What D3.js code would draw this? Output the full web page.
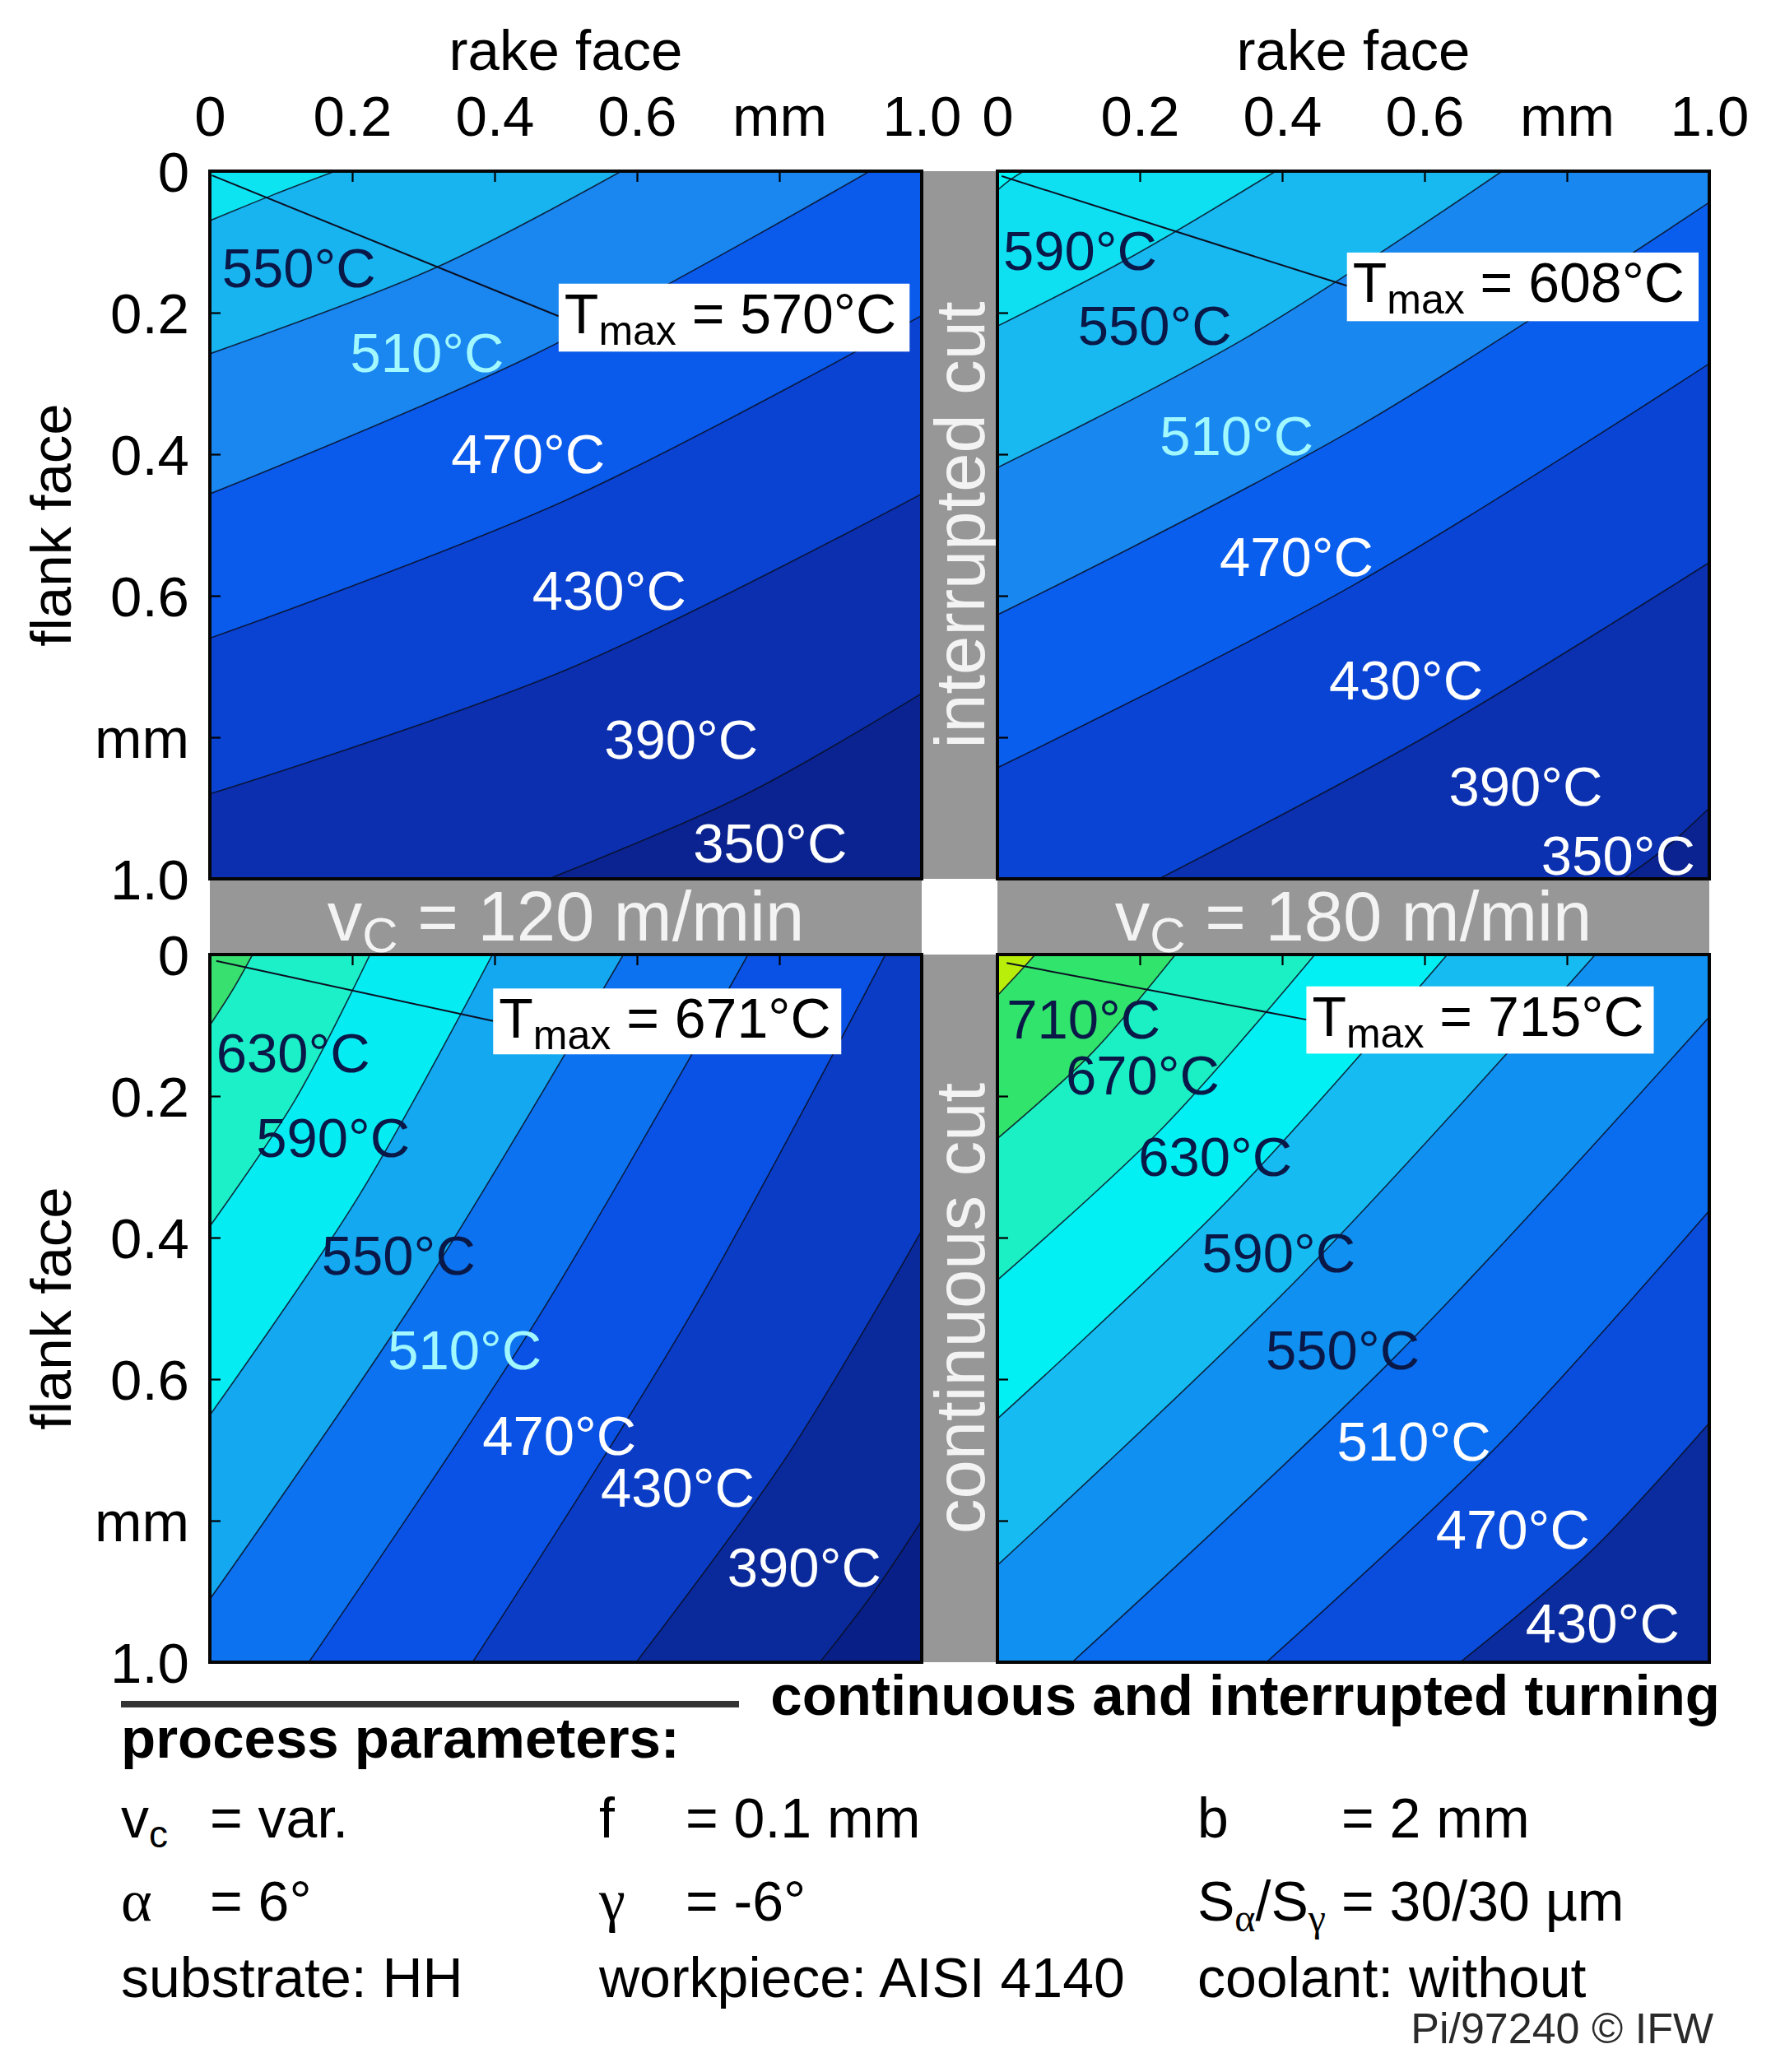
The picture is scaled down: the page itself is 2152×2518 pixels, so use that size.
<!DOCTYPE html>
<html><head><meta charset="utf-8">
<script src="https://cdn.jsdelivr.net/npm/d3@7"></script>
<style>
body{margin:0;background:#fff}
svg{display:block}
svg{font-family:"Liberation Sans",Arial,sans-serif}
</style>
</head><body>
<svg id="c" width="2152" height="2518"></svg>
<script>
// ---------------- DATA ----------------
const axisTicks = [0, 0.2, 0.4, 0.6, 0.8, 1.0];
const axisTickLabels = ["0", "0.2", "0.4", "0.6", "mm", "1.0"];
const cuttingSpeeds = ["120", "180"];
const cutTypes = ["interrupted cut", "continuous cut"];

// contour levels (°C), hot -> cold, and isotherm traces in mm [rake, flank]
const tlLevels = [550, 510, 470, 430, 390, 350];
const tlLines = [
  [[0,0.070],[0.09,0.033],[0.176,0]],
  [[0,0.258],[0.316,0.137],[0.578,0]],
  [[0,0.456],[0.45,0.262],[0.927,0]],
  [[0,0.660],[0.5,0.465],[1,0.204]],
  [[0,0.880],[0.5,0.705],[1,0.456]],
  [[0.476,1],[0.75,0.882],[1,0.738]]
];
const tlLabels = [550, 510, 470, 430, 390, 350];
const tlTmax = 570;

const trLevels = [590, 550, 510, 470, 430, 390, 350];
const trLines = [
  [[0,0.027],[0.017,0.013],[0.037,0]],
  [[0,0.219],[0.19,0.120],[0.391,0]],
  [[0,0.419],[0.35,0.235],[0.709,0]],
  [[0,0.627],[0.5,0.365],[1,0.044]],
  [[0,0.843],[0.5,0.585],[1,0.272]],
  [[0.227,1],[0.6,0.800],[1,0.553]],
  [[0.879,1],[0.94,0.955],[1,0.900]]
];
const trLabels = [590, 550, 510, 470, 430, 390, 350];
const trTmax = 608;

const blLevels = [630, 590, 550, 510, 470, 430, 390, 350];
const blLines = [
  [[0,0.100],[0.032,0.050],[0.060,0]],
  [[0,0.384],[0.120,0.205],[0.225,0]],
  [[0,0.651],[0.210,0.340],[0.397,0]],
  [[0,0.911],[0.300,0.470],[0.581,0]],
  [[0.139,1],[0.460,0.515],[0.756,0]],
  [[0.369,1],[0.672,0.515],[0.949,0]],
  [[0.599,1],[0.810,0.710],[1,0.390]],
  [[0.857,1],[0.930,0.905],[1,0.800]]
];
const blLabels = [630, 590, 550, 510, 470, 430, 390];
const blTmax = 671;

const brLevels = [710, 670, 630, 590, 550, 510, 470, 430];
const brLines = [
  [[0,0.058],[0.028,0.028],[0.053,0]],
  [[0,0.260],[0.132,0.140],[0.250,0]],
  [[0,0.460],[0.232,0.245],[0.446,0]],
  [[0,0.656],[0.326,0.345],[0.632,0]],
  [[0,0.863],[0.430,0.450],[0.840,0]],
  [[0.105,1],[0.562,0.565],[1,0.088]],
  [[0.378,1],[0.697,0.700],[1,0.362]],
  [[0.650,1],[0.832,0.845],[1,0.662]]
];
const brLabels = [710, 670, 630, 590, 550, 510, 470, 430];
const brTmax = 715;

const paramRow1 = ["= var.", "= 0.1 mm", "= 2 mm"];
const paramRow2 = ["= 6°", "= -6°", "= 30/30 µm"];
const paramRow3 = ["substrate: HH", "workpiece: AISI 4140", "coolant: without"];

// ---------------- LAYOUT / STYLE ----------------
const W = 865, H = 860;
const tlLabelAt = [[0.017,0.164],[0.197,0.284],[0.339,0.427],[0.453,0.620],[0.554,0.830],[0.679,0.977]];
const trLabelAt = [[0.008,0.140],[0.113,0.245],[0.228,0.401],[0.312,0.572],[0.466,0.747],[0.634,0.897],[0.764,0.994]];
const blLabelAt = [[0.009,0.166],[0.065,0.286],[0.157,0.452],[0.250,0.586],[0.383,0.707],[0.549,0.780],[0.727,0.893]];
const brLabelAt = [[0.013,0.119],[0.096,0.198],[0.198,0.313],[0.287,0.449],[0.377,0.586],[0.477,0.715],[0.616,0.840],[0.742,0.972]];

const DK = "#0a1848", CY = "#a2f8ff", WH = "#ffffff";
const tlLabelColors = [DK, CY, WH, WH, WH, WH];
const trLabelColors = [DK, DK, CY, WH, WH, WH, WH];
const blLabelColors = [DK, DK, DK, CY, WH, WH, WH];
const brLabelColors = [DK, DK, DK, DK, DK, WH, WH, WH];

// band colours, coldest -> hottest
const tlColors = ["#0a2390","#0b2fae","#0a42d2","#0a5aec","#1a86f0","#18b4f0","#0de4f2"];
const trColors = ["#0a2390","#0b30b0","#0a44d4","#0a5eee","#1888f0","#18b8f0","#0ee0f2","#02f6f6"];
const blColors = ["#081f88","#0a2a9c","#0a3cc6","#0a52e6","#0c72f0","#14a8f1","#06ecf3","#1cf0c8","#38e070"];
const brColors = ["#0a2c9e","#0a4cdc","#0a6cef","#1090f0","#16bcf1","#02f0f3","#1af0c4","#30e46c","#b8ee0a"];

const tlBox = [0.490,0.159,0.983,0.255], trBox = [0.491,0.115,0.985,0.212];
const blBox = [0.398,0.048,0.887,0.141], brBox = [0.434,0.045,0.922,0.140];
const tlPointer = [[0.003,0.006],[0.490,0.205]];
const trPointer = [[0.006,0.007],[0.491,0.162]];
const blPointer = [[0.009,0.009],[0.398,0.094]];
const brPointer = [[0.013,0.012],[0.434,0.092]];

const panels = [
  {id:"tl", ox:255,  oy:208,  levels:tlLevels, lines:tlLines, colors:tlColors, labels:tlLabels, labelAt:tlLabelAt, labelColors:tlLabelColors, tmax:tlTmax, box:tlBox, pointer:tlPointer, top:true,  left:true},
  {id:"tr", ox:1212, oy:208,  levels:trLevels, lines:trLines, colors:trColors, labels:trLabels, labelAt:trLabelAt, labelColors:trLabelColors, tmax:trTmax, box:trBox, pointer:trPointer, top:true,  left:false},
  {id:"bl", ox:255,  oy:1160, levels:blLevels, lines:blLines, colors:blColors, labels:blLabels, labelAt:blLabelAt, labelColors:blLabelColors, tmax:blTmax, box:blBox, pointer:blPointer, top:false, left:true},
  {id:"br", ox:1212, oy:1160, levels:brLevels, lines:brLines, colors:brColors, labels:brLabels, labelAt:brLabelAt, labelColors:brLabelColors, tmax:brTmax, box:brBox, pointer:brPointer, top:false, left:false}
];

const FONT = '"Liberation Sans", Arial, sans-serif';
const svg = d3.select("#c");
svg.append("rect").attr("width",2152).attr("height",2518).attr("fill","#fff");

panels.forEach(p => {
  p.x = d3.scaleLinear().domain([0,1]).range([p.ox, p.ox + W]);
  p.y = d3.scaleLinear().domain([0,1]).range([p.oy, p.oy + H]);
});
const [TL, TR, BL, BR] = panels;

// ---------------- gray separator bands ----------------
const GRAY = "#979797";
const bands = svg.append("g").attr("fill", GRAY);
bands.append("rect").attr("x", TL.x(1)).attr("y", TL.y(0)).attr("width", TR.x(0)-TL.x(1)).attr("height", TL.y(1)-TL.y(0));
bands.append("rect").attr("x", BL.x(1)).attr("y", BL.y(0)).attr("width", BR.x(0)-BL.x(1)).attr("height", BL.y(1)-BL.y(0));
bands.append("rect").attr("x", TL.x(0)).attr("y", TL.y(1)).attr("width", TL.x(1)-TL.x(0)).attr("height", BL.y(0)-TL.y(1));
bands.append("rect").attr("x", TR.x(0)).attr("y", TR.y(1)).attr("width", TR.x(1)-TR.x(0)).attr("height", BR.y(0)-TR.y(1));

// band texts
const BT = "#f3f3f3";
[TL, TR].forEach((p, i) => {
  const t = svg.append("text").attr("x", p.x(0.5)).attr("y", p.y(1) + 75)
    .attr("text-anchor","middle").attr("font-size",85).attr("fill",BT);
  t.append("tspan").text("v");
  t.append("tspan").attr("font-size",60).attr("dy",14).text("C");
  t.append("tspan").attr("dy",-14).text(" = " + cuttingSpeeds[i] + " m/min");
});
[TL, BL].forEach((p, i) => {
  const cx = (p.x(1) + (i === 0 ? TR : BR).x(0)) / 2 + 30;
  const cy = p.y(0.5);
  svg.append("text").attr("transform", `translate(${cx},${cy}) rotate(-90)`)
    .attr("text-anchor","middle").attr("font-size",85).attr("fill",BT).text(cutTypes[i]);
});

// ---------------- panels ----------------
function hotSide(pts, x, y, lineGen) {
  const S = pts[0], E = pts[pts.length-1];
  const c = [];
  if (E[1] <= 1e-6) c.push([E[0], -0.2]); else { c.push([1.2, E[1]]); c.push([1.2, -0.2]); }
  c.push([-0.2, -0.2]);
  if (S[0] <= 1e-6) c.push([-0.2, S[1]]); else { c.push([-0.2, 1.2]); c.push([S[0], 1.2]); }
  return lineGen(pts) + c.map(q => "L" + x(q[0]) + "," + y(q[1])).join("") + "Z";
}

panels.forEach(p => {
  const {x, y} = p;
  const g = svg.append("g");
  g.append("clipPath").attr("id", "clip-" + p.id).append("rect")
    .attr("x", x(0)).attr("y", y(0)).attr("width", x(1)-x(0)).attr("height", y(1)-y(0));
  const cg = g.append("g").attr("clip-path", `url(#clip-${p.id})`);
  const lineGen = d3.line().x(d => x(d[0])).y(d => y(d[1])).curve(d3.curveCatmullRom.alpha(0.5));

  cg.append("rect").attr("x", x(0)).attr("y", y(0)).attr("width", x(1)-x(0)).attr("height", y(1)-y(0))
    .attr("fill", p.colors[0]);
  const order = p.levels.map((l, i) => i).sort((a, b) => p.levels[a] - p.levels[b]);
  order.forEach((li, k) => {
    cg.append("path").attr("d", hotSide(p.lines[li], x, y, lineGen)).attr("fill", p.colors[k+1]);
  });
  p.lines.forEach(l => {
    cg.append("path").attr("d", lineGen(l)).attr("fill","none")
      .attr("stroke","#0b0f22").attr("stroke-width",1.6).attr("stroke-opacity",0.85);
  });
  // pointer to Tmax
  cg.append("line").attr("x1", x(p.pointer[0][0])).attr("y1", y(p.pointer[0][1]))
    .attr("x2", x(p.pointer[1][0])).attr("y2", y(p.pointer[1][1]))
    .attr("stroke","#0b0f22").attr("stroke-width",2);

  // isotherm labels
  p.labels.forEach((v, i) => {
    g.append("text").attr("x", x(p.labelAt[i][0])).attr("y", y(p.labelAt[i][1]))
      .attr("font-size",67).attr("fill", p.labelColors[i]).text(v + "°C");
  });

  // Tmax box
  const b = p.box;
  g.append("rect").attr("x", x(b[0])).attr("y", y(b[1])).attr("width", x(b[2])-x(b[0])).attr("height", y(b[3])-y(b[1]))
    .attr("fill","#fff");
  const t = g.append("text").attr("x", x(b[0]) + 7).attr("y", y(b[1]) + 60).attr("font-size",68).attr("fill","#000");
  t.append("tspan").text("T");
  t.append("tspan").attr("font-size",50).attr("dy",14).text("max");
  t.append("tspan").attr("dy",-14).text(" = " + p.tmax + "°C");

  // axes (ticks inside)
  const ax = g.append("g").attr("transform", `translate(0,${y(0)})`)
    .call(d3.axisTop(x).tickValues(axisTicks).tickSizeInner(-13).tickSizeOuter(0).tickPadding(43)
      .tickFormat((d, i) => p.top ? axisTickLabels[i] : ""));
  const ay = g.append("g").attr("transform", `translate(${x(0)},0)`)
    .call(d3.axisLeft(y).tickValues(axisTicks).tickSizeInner(-13).tickSizeOuter(0).tickPadding(25)
      .tickFormat((d, i) => p.left ? axisTickLabels[i] : ""));
  [ax, ay].forEach(a => {
    a.select(".domain").remove();
    a.attr("font-size", 69).attr("font-family", FONT);
    a.selectAll(".tick line").attr("stroke","#000").attr("stroke-width",2.2);
    a.selectAll(".tick text").attr("fill","#000");
  });
  ay.selectAll(".tick text").attr("dy","0.35em");

  // border
  g.append("rect").attr("x", x(0)).attr("y", y(0)).attr("width", x(1)-x(0)).attr("height", y(1)-y(0))
    .attr("fill","none").attr("stroke","#050505").attr("stroke-width",4);

  if (p.top) {
    g.append("text").attr("x", x(0.5)).attr("y", 85).attr("text-anchor","middle")
      .attr("font-size",69).attr("fill","#000").text("rake face");
  }
  if (p.left) {
    g.append("text").attr("transform", `translate(86,${y(0.5)}) rotate(-90)`).attr("text-anchor","middle")
      .attr("font-size",69).attr("fill","#000").text("flank face");
  }
});

// ---------------- bottom information ----------------
const info = svg.append("g").attr("fill","#000").attr("font-size",68);
svg.append("line").attr("x1",147).attr("x2",898).attr("y1",2071).attr("y2",2071)
  .attr("stroke","#333").attr("stroke-width",8);
info.append("text").attr("x",2090).attr("y",2084).attr("text-anchor","end").attr("font-weight","bold")
  .attr("font-size",69).text("continuous and interrupted turning");
info.append("text").attr("x",147).attr("y",2136).attr("font-weight","bold").attr("font-size",69)
  .text("process parameters:");

const colX = [147, 728, 1455], eqX = [255, 833, 1630];
const rowY = [2233, 2334, 2427];
const greek = '"Liberation Serif", "DejaVu Serif", serif';

// row 1
let t1 = info.append("text").attr("x", colX[0]).attr("y", rowY[0]);
t1.append("tspan").text("v");
t1.append("tspan").attr("font-size",46).attr("dy",12).text("c");
info.append("text").attr("x", colX[1]).attr("y", rowY[0]).text("f");
info.append("text").attr("x", colX[2]).attr("y", rowY[0]).text("b");
paramRow1.forEach((s, i) => info.append("text").attr("x", eqX[i]).attr("y", rowY[0]).text(s));

// row 2
info.append("text").attr("x", colX[0]).attr("y", rowY[1]).style("font-family", greek).attr("font-size",72).text("α");
info.append("text").attr("x", colX[1]).attr("y", rowY[1]).style("font-family", greek).attr("font-size",72).text("γ");
let t2 = info.append("text").attr("x", colX[2]).attr("y", rowY[1]);
t2.append("tspan").text("S");
t2.append("tspan").attr("font-size",48).attr("dy",13).style("font-family", greek).text("α");
t2.append("tspan").attr("dy",-13).text("/S");
t2.append("tspan").attr("font-size",48).attr("dy",13).style("font-family", greek).text("γ");
paramRow2.forEach((s, i) => info.append("text").attr("x", eqX[i]).attr("y", rowY[1]).text(s));

// row 3
paramRow3.forEach((s, i) => info.append("text").attr("x", colX[i]).attr("y", rowY[2]).text(s));

svg.append("text").attr("x",2082).attr("y",2483).attr("text-anchor","end").attr("font-size",52)
  .attr("fill","#2a2a2a").text("Pi/97240 © IFW");
</script>
</body></html>
